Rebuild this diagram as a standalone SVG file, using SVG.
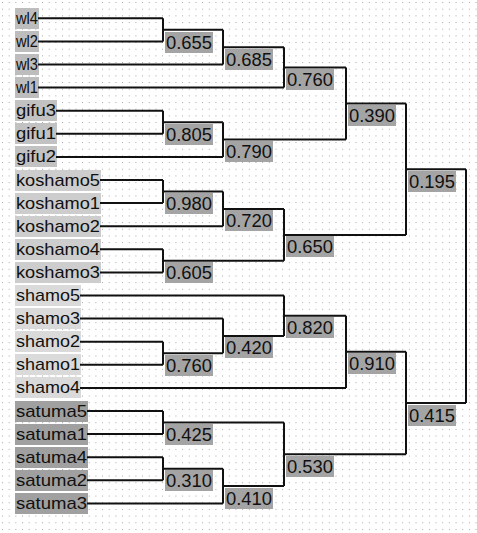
<svg xmlns="http://www.w3.org/2000/svg" width="477" height="533" viewBox="0 0 477 533">
<defs>
<pattern id="dots" x="2" y="2" width="6.67" height="6.67" patternUnits="userSpaceOnUse">
<rect x="0" y="0" width="1" height="1" fill="#a8a8a8"/>
</pattern>
<style>
.leaf text{font-family:"Liberation Sans",Arial,sans-serif;font-size:17px;fill:#111}
.lv text{font-family:"Liberation Sans",Arial,sans-serif;font-size:18px;fill:#111}
.lv rect{fill:#a4a4a4}
.bw rect{fill:#bdbdbd}
.bg rect{fill:#c2c2c2}
.bk rect{fill:#cdcdcd}
.bs rect{fill:#dadada}
.bt rect{fill:#a0a0a0}
#connectors path{fill:none;stroke:#111;stroke-width:2}
</style>
</defs>
<rect width="477" height="533" fill="#ffffff"/>
<rect width="477" height="533" fill="url(#dots)"/>

<!-- leaves -->
<g id="wl4" class="leaf bw"><rect x="15" y="8" width="24" height="21"/><text x="16" y="24" textLength="22" lengthAdjust="spacingAndGlyphs">wl4</text></g>
<g id="wl2" class="leaf bw"><rect x="15" y="31" width="24" height="21"/><text x="16" y="47" textLength="22" lengthAdjust="spacingAndGlyphs">wl2</text></g>
<g id="wl3" class="leaf bw"><rect x="15" y="54" width="24" height="21"/><text x="16" y="70" textLength="22" lengthAdjust="spacingAndGlyphs">wl3</text></g>
<g id="wl1" class="leaf bw"><rect x="15" y="77" width="24" height="21"/><text x="16" y="93" textLength="22" lengthAdjust="spacingAndGlyphs">wl1</text></g>
<g id="gifu3" class="leaf bg"><rect x="15" y="100" width="42" height="21"/><text x="16" y="116" textLength="40" lengthAdjust="spacingAndGlyphs">gifu3</text></g>
<g id="gifu1" class="leaf bg"><rect x="15" y="123" width="42" height="21"/><text x="16" y="139" textLength="40" lengthAdjust="spacingAndGlyphs">gifu1</text></g>
<g id="gifu2" class="leaf bg"><rect x="15" y="146" width="42" height="21"/><text x="16" y="162" textLength="40" lengthAdjust="spacingAndGlyphs">gifu2</text></g>
<g id="koshamo5" class="leaf bk"><rect x="15" y="170" width="86" height="21"/><text x="16" y="186" textLength="84" lengthAdjust="spacingAndGlyphs">koshamo5</text></g>
<g id="koshamo1" class="leaf bk"><rect x="15" y="193" width="86" height="21"/><text x="16" y="209" textLength="84" lengthAdjust="spacingAndGlyphs">koshamo1</text></g>
<g id="koshamo2" class="leaf bk"><rect x="15" y="216" width="86" height="21"/><text x="16" y="232" textLength="84" lengthAdjust="spacingAndGlyphs">koshamo2</text></g>
<g id="koshamo4" class="leaf bk"><rect x="15" y="239" width="86" height="21"/><text x="16" y="255" textLength="84" lengthAdjust="spacingAndGlyphs">koshamo4</text></g>
<g id="koshamo3" class="leaf bk"><rect x="15" y="262" width="86" height="21"/><text x="16" y="278" textLength="84" lengthAdjust="spacingAndGlyphs">koshamo3</text></g>
<g id="shamo5" class="leaf bs"><rect x="15" y="285" width="66" height="21"/><text x="16" y="301" textLength="64" lengthAdjust="spacingAndGlyphs">shamo5</text></g>
<g id="shamo3" class="leaf bs"><rect x="15" y="308" width="66" height="21"/><text x="16" y="324" textLength="64" lengthAdjust="spacingAndGlyphs">shamo3</text></g>
<g id="shamo2" class="leaf bs"><rect x="15" y="331" width="66" height="21"/><text x="16" y="347" textLength="64" lengthAdjust="spacingAndGlyphs">shamo2</text></g>
<g id="shamo1" class="leaf bs"><rect x="15" y="354" width="66" height="21"/><text x="16" y="370" textLength="64" lengthAdjust="spacingAndGlyphs">shamo1</text></g>
<g id="shamo4" class="leaf bs"><rect x="15" y="377" width="66" height="21"/><text x="16" y="393" textLength="64" lengthAdjust="spacingAndGlyphs">shamo4</text></g>
<g id="satuma5" class="leaf bt"><rect x="15" y="401" width="73" height="21"/><text x="16" y="417" textLength="71" lengthAdjust="spacingAndGlyphs">satuma5</text></g>
<g id="satuma1" class="leaf bt"><rect x="15" y="424" width="73" height="21"/><text x="16" y="440" textLength="71" lengthAdjust="spacingAndGlyphs">satuma1</text></g>
<g id="satuma4" class="leaf bt"><rect x="15" y="447" width="73" height="21"/><text x="16" y="463" textLength="71" lengthAdjust="spacingAndGlyphs">satuma4</text></g>
<g id="satuma2" class="leaf bt"><rect x="15" y="470" width="73" height="21"/><text x="16" y="486" textLength="71" lengthAdjust="spacingAndGlyphs">satuma2</text></g>
<g id="satuma3" class="leaf bt"><rect x="15" y="493" width="73" height="21"/><text x="16" y="509" textLength="71" lengthAdjust="spacingAndGlyphs">satuma3</text></g>

<!-- connectors -->
<g id="connectors">
<path d="M38 18.3H163M38 41.4H163M38 64.5H223M38 87.6H284"/>
<path d="M56 110.7H163M56 133.8H163M56 156.9H223"/>
<path d="M100 180H163M100 203.1H163M100 226.2H223M100 249.3H163M100 272.4H163"/>
<path d="M80 295.5H284M80 318.6H223M80 341.7H163M80 364.8H163M80 387.9H346"/>
<path d="M87 411H163M87 434.1H163M87 457.2H163M87 480.3H163M87 503.4H223"/>
<path d="M163 18.3V41.4M163 29.85H223"/>
<path d="M223 29.85V64.5M223 47.2H284"/>
<path d="M284 47.2V87.6M284 67.4H346"/>
<path d="M163 110.7V133.8M163 122.25H223"/>
<path d="M223 122.25V156.9M223 139.6H346"/>
<path d="M346 67.4V139.6M346 103.5H406"/>
<path d="M163 180V203.1M163 191.55H223"/>
<path d="M223 191.55V226.2M223 208.9H284"/>
<path d="M163 249.3V272.4M163 260.85H284"/>
<path d="M284 208.9V260.85M284 234.9H406"/>
<path d="M406 103.5V234.9M406 169.2H466"/>
<path d="M163 341.7V364.8M163 353.25H223"/>
<path d="M223 318.6V353.25M223 335.9H284"/>
<path d="M284 295.5V335.9M284 315.7H346"/>
<path d="M346 315.7V387.9M346 351.8H406"/>
<path d="M163 411V434.1M163 422.55H284"/>
<path d="M163 457.2V480.3M163 468.75H223"/>
<path d="M223 468.75V503.4M223 486.1H284"/>
<path d="M284 422.55V486.1M284 454.3H406"/>
<path d="M406 351.8V454.3M406 403H466"/>
<path d="M466 169.2V403"/>
</g>

<!-- level labels -->
<g id="n0655" class="lv"><rect x="165" y="32" width="48" height="21"/><text x="166" y="49" textLength="46" lengthAdjust="spacingAndGlyphs">0.655</text></g>
<g id="n0685" class="lv"><rect x="225" y="49" width="48" height="21"/><text x="226" y="66" textLength="46" lengthAdjust="spacingAndGlyphs">0.685</text></g>
<g id="n0760a" class="lv"><rect x="286" y="69" width="48" height="21"/><text x="287" y="86" textLength="46" lengthAdjust="spacingAndGlyphs">0.760</text></g>
<g id="n0805" class="lv"><rect x="165" y="124" width="48" height="21"/><text x="166" y="141" textLength="46" lengthAdjust="spacingAndGlyphs">0.805</text></g>
<g id="n0790" class="lv"><rect x="225" y="141" width="48" height="21"/><text x="226" y="158" textLength="46" lengthAdjust="spacingAndGlyphs">0.790</text></g>
<g id="n0390" class="lv"><rect x="348" y="105" width="48" height="21"/><text x="349" y="122" textLength="46" lengthAdjust="spacingAndGlyphs">0.390</text></g>
<g id="n0980" class="lv"><rect x="165" y="193" width="48" height="21"/><text x="166" y="210" textLength="46" lengthAdjust="spacingAndGlyphs">0.980</text></g>
<g id="n0720" class="lv"><rect x="225" y="210" width="48" height="21"/><text x="226" y="227" textLength="46" lengthAdjust="spacingAndGlyphs">0.720</text></g>
<g id="n0605" class="lv"><rect x="165" y="262" width="48" height="21"/><text x="166" y="279" textLength="46" lengthAdjust="spacingAndGlyphs">0.605</text></g>
<g id="n0650" class="lv"><rect x="286" y="236" width="48" height="21"/><text x="287" y="253" textLength="46" lengthAdjust="spacingAndGlyphs">0.650</text></g>
<g id="n0195" class="lv"><rect x="408" y="171" width="48" height="21"/><text x="409" y="188" textLength="46" lengthAdjust="spacingAndGlyphs">0.195</text></g>
<g id="n0760b" class="lv"><rect x="165" y="355" width="48" height="21"/><text x="166" y="372" textLength="46" lengthAdjust="spacingAndGlyphs">0.760</text></g>
<g id="n0420" class="lv"><rect x="225" y="337" width="48" height="21"/><text x="226" y="354" textLength="46" lengthAdjust="spacingAndGlyphs">0.420</text></g>
<g id="n0820" class="lv"><rect x="286" y="317" width="48" height="21"/><text x="287" y="334" textLength="46" lengthAdjust="spacingAndGlyphs">0.820</text></g>
<g id="n0910" class="lv"><rect x="348" y="353" width="48" height="21"/><text x="349" y="370" textLength="46" lengthAdjust="spacingAndGlyphs">0.910</text></g>
<g id="n0425" class="lv"><rect x="165" y="424" width="48" height="21"/><text x="166" y="441" textLength="46" lengthAdjust="spacingAndGlyphs">0.425</text></g>
<g id="n0310" class="lv"><rect x="165" y="470" width="48" height="21"/><text x="166" y="487" textLength="46" lengthAdjust="spacingAndGlyphs">0.310</text></g>
<g id="n0410" class="lv"><rect x="225" y="488" width="48" height="21"/><text x="226" y="505" textLength="46" lengthAdjust="spacingAndGlyphs">0.410</text></g>
<g id="n0530" class="lv"><rect x="286" y="456" width="48" height="21"/><text x="287" y="473" textLength="46" lengthAdjust="spacingAndGlyphs">0.530</text></g>
<g id="n0415" class="lv"><rect x="408" y="405" width="48" height="21"/><text x="409" y="422" textLength="46" lengthAdjust="spacingAndGlyphs">0.415</text></g>
</svg>
